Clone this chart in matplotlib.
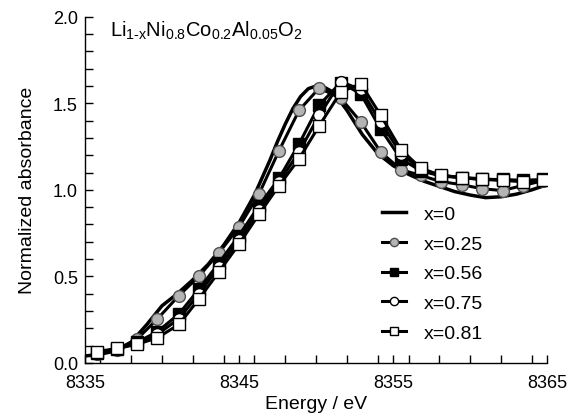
import matplotlib
matplotlib.use("Agg")
import matplotlib.pyplot as plt
from matplotlib.ticker import MultipleLocator, FixedLocator, FormatStrFormatter

plt.rcParams['font.family'] = ['Liberation Sans', 'DejaVu Sans']
plt.rcParams['mathtext.fontset'] = 'custom'
plt.rcParams['mathtext.rm'] = 'Liberation Sans'
plt.rcParams['mathtext.it'] = 'Liberation Sans:italic'

# x=0 spectrum (continuous line, no markers)
e_line = [8335, 8336, 8337, 8338, 8339, 8340, 8341, 8342, 8343, 8344, 8345,
          8346, 8346.5, 8347, 8347.5, 8348, 8348.5, 8349, 8349.5, 8350,
          8350.5, 8351, 8351.5, 8352, 8353, 8354, 8355, 8356,
          8357, 8358, 8359, 8360, 8361, 8362, 8363, 8364, 8365]
x0 = [0.04, 0.05, 0.07, 0.12, 0.22, 0.33, 0.40, 0.48, 0.57, 0.68, 0.81,
      0.97, 1.07, 1.17, 1.28, 1.38, 1.47, 1.54, 1.585, 1.60,
      1.595, 1.57, 1.52, 1.46, 1.32, 1.21, 1.14, 1.09,
      1.05, 1.02, 0.99, 0.97, 0.955, 0.96, 0.975, 1.00, 1.03]

# energies of the marked spectra
e_pts = [8335.8, 8337.1, 8338.4, 8339.7, 8341.1, 8342.4, 8343.7, 8345.0,
         8346.3, 8347.6, 8348.9, 8350.2, 8351.6, 8352.9, 8354.2, 8355.5,
         8356.8, 8358.1, 8359.5, 8360.8, 8362.1, 8363.4, 8364.7]
x025 = [0.05, 0.075, 0.139, 0.254, 0.389, 0.501, 0.636, 0.786, 0.977, 1.227,
        1.46, 1.588, 1.53, 1.393, 1.218, 1.117, 1.083, 1.048, 1.029, 1.006,
        0.996, 1.025, 1.052]
x056 = [0.06, 0.08, 0.12, 0.18, 0.283, 0.426, 0.578, 0.736, 0.909, 1.067,
        1.266, 1.49, 1.62, 1.555, 1.35, 1.18, 1.11, 1.08, 1.07, 1.06,
        1.06, 1.055, 1.06]
x075 = [0.06, 0.08, 0.115, 0.165, 0.255, 0.40, 0.555, 0.71, 0.885, 1.045,
        1.22, 1.43, 1.625, 1.58, 1.39, 1.21, 1.12, 1.085, 1.07, 1.06,
        1.055, 1.05, 1.055]
x081 = [0.065, 0.084, 0.108, 0.145, 0.222, 0.37, 0.527, 0.687, 0.86, 1.025,
        1.18, 1.37, 1.565, 1.613, 1.43, 1.233, 1.125, 1.083, 1.071, 1.064,
        1.056, 1.048, 1.056]

fig = plt.figure(figsize=(5.7, 4.14), dpi=100)
ax = fig.add_axes([0.149, 0.121, 0.811, 0.836])

lw = 2.2
ms = 8.5
ax.plot(e_line, x0, color='black', lw=2.5, label='x=0')
ax.plot(e_pts, x025, color='black', lw=lw, marker='o', ms=ms, mfc='#b4b4b4',
        mec='#505050', mew=1.0, label='x=0.25')
ax.plot(e_pts, x056, color='black', lw=lw, marker='s', ms=ms, mfc='black',
        mec='black', mew=1.0, label='x=0.56')
ax.plot(e_pts, x075, color='black', lw=lw, marker='o', ms=ms, mfc='white',
        mec='black', mew=1.0, label='x=0.75')
ax.plot(e_pts, x081, color='black', lw=lw, marker='s', ms=ms, mfc='white',
        mec='black', mew=1.0, label='x=0.81')

ax.set_xlim(8335, 8365)
ax.set_ylim(0, 2.0)
ax.xaxis.set_major_locator(FixedLocator([8335, 8345, 8355, 8365]))
ax.xaxis.set_minor_locator(MultipleLocator(2))
ax.yaxis.set_major_locator(MultipleLocator(0.5))
ax.yaxis.set_minor_locator(MultipleLocator(0.1))
ax.yaxis.set_major_formatter(FormatStrFormatter('%.1f'))
ax.tick_params(which='both', direction='in', length=6, width=1,
               labelsize=13, top=False, right=False)
ax.tick_params(axis='x', pad=8)
ax.tick_params(axis='y', pad=5)
for s in ('top', 'right'):
    ax.spines[s].set_visible(False)
for s in ('left', 'bottom'):
    ax.spines[s].set_linewidth(1.0)

ax.set_xlabel('Energy / eV', fontsize=14, labelpad=3)
ax.set_ylabel('Normalized absorbance', fontsize=14, labelpad=12)

ax.text(0.055, 0.995,
        r'$\mathrm{Li_{1\text{-}x}Ni_{0.8}Co_{0.2}Al_{0.05}O_{2}}$',
        transform=ax.transAxes, fontsize=14.5, va='top', ha='left')

ax.legend(loc='upper left', bbox_to_anchor=(0.643, 0.455), frameon=False,
          fontsize=14, handlelength=1.25, handletextpad=0.9,
          labelspacing=0.62, markerscale=0.7, borderpad=0, borderaxespad=0)

fig.savefig('out.png', dpi=100)
